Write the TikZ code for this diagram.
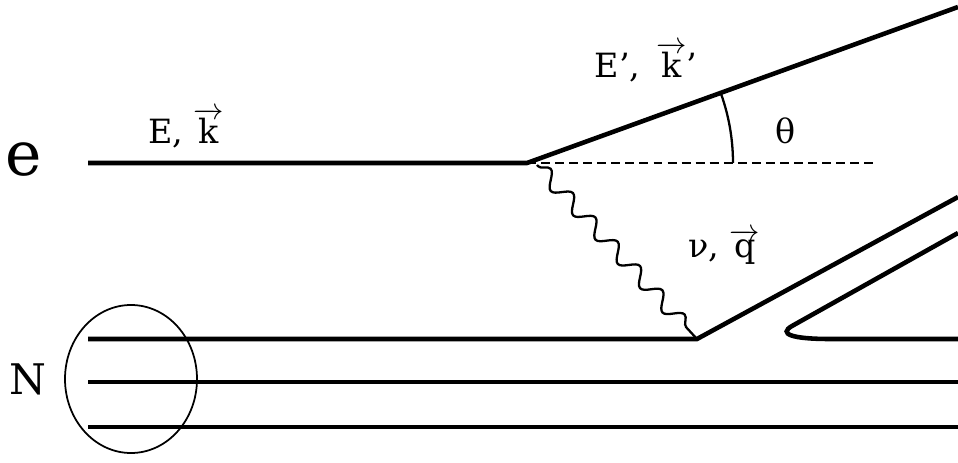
\documentclass[tikz,border=0pt]{standalone}
\usepackage{fontspec}
\setmainfont{DejaVu Serif}
\usetikzlibrary{decorations.pathmorphing}

\tikzset{
  fermion/.style={line width=2.6pt},
  photon/.style={line width=1.3pt,decorate,
    decoration={snake,amplitude=1.5mm,segment length=6.6mm,pre length=1pt,post length=1pt}},
  lbl/.style={anchor=base,inner sep=0pt,font=\rmfamily\fontsize{19}{22}\selectfont},
}
\newcommand{\vecrm}[1]{\overrightarrow{\mathrm{#1}}}

\begin{document}
\begin{tikzpicture}[x=0.02cm,y=-0.02cm]
  \useasboundingbox (0,0) rectangle (958,463);
  % Eckpunkte
  \coordinate (ein)  at (88,163);
  \coordinate (vtx)  at (527,163);
  \coordinate (eout) at (958,7);
  \coordinate (dend) at (877,163);
  \coordinate (nvtx) at (697,339);
  % Elektron
  \draw[fermion] (ein) -- (vtx) -- (eout);
  \draw[line width=0.7pt,dash pattern=on 5.1pt off 2.9pt] (vtx) -- (dend);
  % Streuwinkel
  \draw[line width=1.3pt] (733,163) arc[start angle=0,end angle=-19.6,radius=206];
  % virtuelles Photon
  \draw[photon] (537,165) -- (nvtx);
  % Kern: drei Quarklinien
  \draw[fermion] (88,339) -- (nvtx) -- (958,197);
  \draw[fermion] (958,233) -- (792,326)
    .. controls (778,334) and (792,339) .. (830,339) -- (958,339);
  \draw[fermion] (88,382) -- (958,382);
  \draw[fermion] (88,427) -- (958,427);
  \draw[line width=1pt] (131,379) ellipse[x radius=66,y radius=74];
  % Beschriftungen
  \node[lbl,font=\rmfamily\fontsize{35}{40}\selectfont] (e) at (24,175) {e};
  \node[lbl,font=\rmfamily\fontsize{24}{28}\selectfont] (N) at (28,394) {N};
  \node[lbl] (Ek) at (186,143) {E, $\vecrm{k}$};
  \node[lbl] (Ekp) at (646,77) {E’,\,\ $\vecrm{k}$’};
  \node[lbl] (nuq) at (724,257) {ν,\ $\vecrm{q}$};
  \node[lbl] (th) at (786,143) {θ};
\end{tikzpicture}
\end{document}
